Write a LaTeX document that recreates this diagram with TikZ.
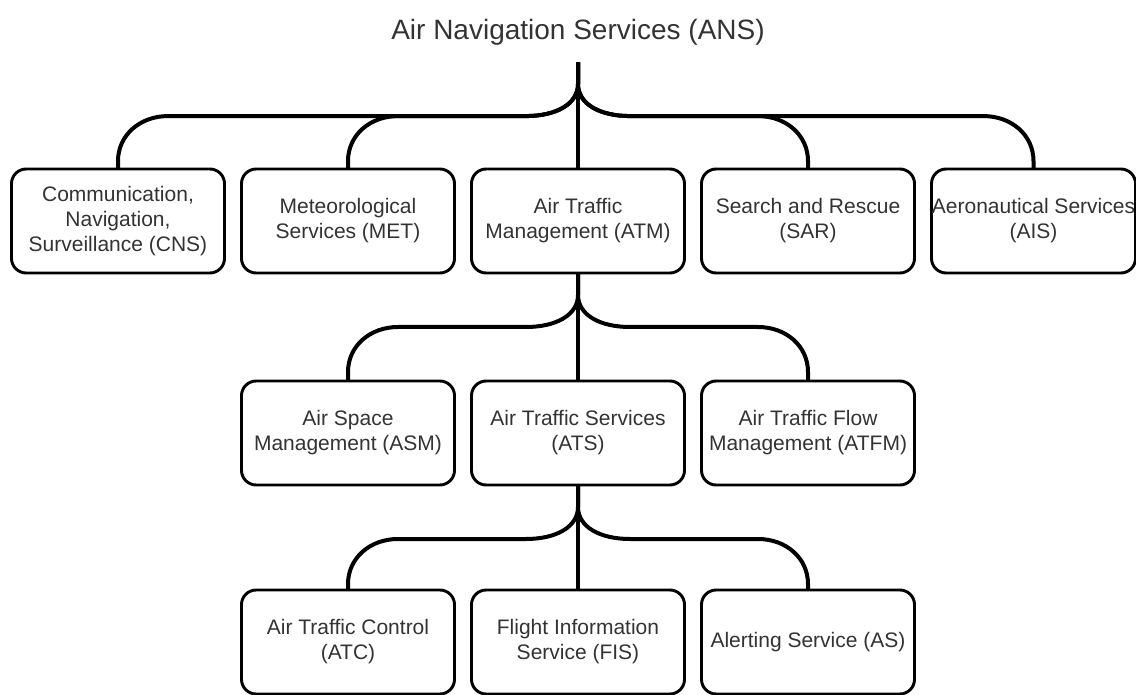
\documentclass[tikz,border=0pt]{standalone}
\usepackage{fontspec}
\setmainfont{Liberation Sans}
\usetikzlibrary{positioning,calc}
\definecolor{BoxText}{HTML}{333333}

\begin{document}
\begin{tikzpicture}[x=0.75pt,y=-0.75pt,node distance=81pt and 12.75pt]
\tikzstyle{box}=[rectangle,rounded corners=11pt,draw=black,line width=2.2pt,fill=white,
                 minimum width=159.75pt,minimum height=78pt,outer sep=0pt,inner sep=2pt,
                 align=center,text=BoxText,font=\fontsize{15.75}{18.75}\selectfont]
\tikzstyle{link}=[line width=3pt]
\useasboundingbox (0,0) rectangle (1136,695);
% title
\node[anchor=base,inner ysep=12pt,text=BoxText,font=\fontsize{21}{25}\selectfont] (ans) at (578,40) {Air Navigation Services (ANS)};
% first level
\node[box] (atm) at (578,221) {Air Traffic\\Management (ATM)};
\node[box,left=of atm] (met) {Meteorological\\Services (MET)};
\node[box,left=of met] (cns) {Communication,\\Navigation,\\Surveillance (CNS)};
\node[box,right=of atm] (sar) {Search and Rescue\\(SAR)};
\node[box,right=of sar,minimum width=153pt,inner xsep=0pt] (ais) {Aeronautical Services\\(AIS)};
% second level
\node[box,below=of atm] (ats) {Air Traffic Services\\(ATS)};
\node[box,left=of ats] (asm) {Air Space\\Management (ASM)};
\node[box,right=of ats] (atfm) {Air Traffic Flow\\Management (ATFM)};
% third level
\node[box,below=78.75pt of ats] (fis) {Flight Information\\Service (FIS)};
\node[box,left=of fis] (atc) {Air Traffic Control\\(ATC)};
\node[box,right=of fis] (als) {Alerting Service (AS)};
% straight stems
\draw[link] (ans.south) -- (atm.north);
\draw[link] (atm.south) -- (ats.north);
\draw[link] (ats.south) -- (fis.north);
% curved branches
\foreach \pa/\ch/\sd in {ans/cns/-1,ans/met/-1,ans/sar/1,ans/ais/1,
                         atm/asm/-1,atm/atfm/1,ats/atc/-1,ats/als/1}
  \draw[link] (\pa.south) -- ++(0,22) .. controls +(0,20) and +({-30*\sd},0) .. ++({52*\sd},32)
    -- ($(\ch.north |- \pa.south)+({-50*\sd},54)$) .. controls +({28*\sd},0) and +(0,-26) ..
    ($(\ch.north |- \pa.south)+(0,99)$) -- (\ch.north);
\end{tikzpicture}
\end{document}
